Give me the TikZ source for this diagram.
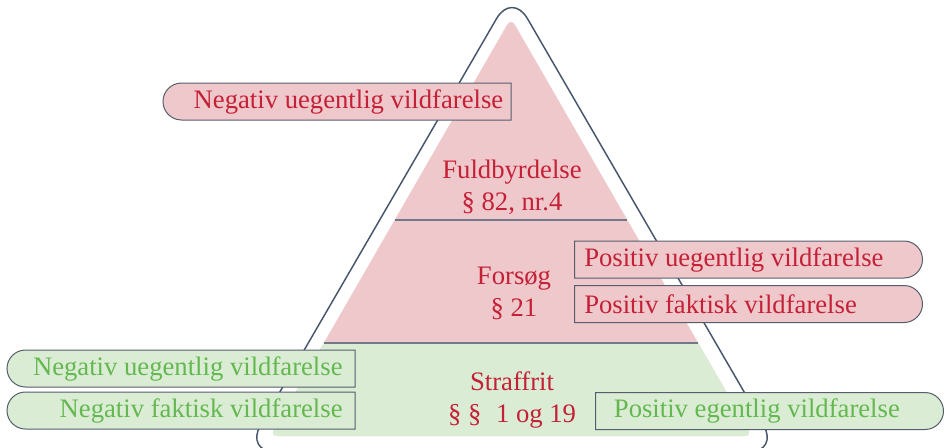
\documentclass[tikz,border=0pt]{standalone}
\usepackage{fontspec}
\setmainfont{Liberation Serif}
\usepackage{tikz}
\usetikzlibrary{shapes.misc}

\definecolor{pyrpink}{RGB}{239,200,204}
\definecolor{pyrgreen}{RGB}{218,236,212}
\definecolor{txtred}{RGB}{196,32,54}
\definecolor{txtgreen}{RGB}{100,184,80}
\definecolor{pyrline}{RGB}{70,86,108}
\definecolor{boxline}{RGB}{84,94,108}
\definecolor{divline}{RGB}{110,122,138}

\begin{document}
\begin{tikzpicture}[x=0.75pt, y=-0.75pt,
    level/.style={align=center, text=txtred, inner sep=0pt, font=\fontsize{20}{24}\selectfont},
    pbox/.style={rounded rectangle, draw=boxline, line width=0.75pt, fill=pyrpink,
        minimum width=261pt, minimum height=27.75pt, inner sep=0pt},
    gbox/.style={pbox, fill=pyrgreen},
    boxtxt/.style={inner sep=0pt, font=\fontsize{20}{24}\selectfont}]
        \useasboundingbox (0,0) rectangle (949,447); %
        \clip (0,0) rectangle (949,447); %
        \draw[pyrline, line width=1.1pt, rounded corners=23pt]
            (378.5,222) -- (512,-8) -- (779,452) -- (245,452) -- cycle; %
        \fill[pyrpink, rounded corners=6pt] (511,436) -- (270.2,436) -- (511,18) -- (751.8,436) -- cycle; %
        \fill[pyrgreen] (511,343) -- (698.2,343) [rounded corners=5pt] -- (751.8,436) -- (270.2,436)
            [sharp corners] -- (323.8,343) -- cycle; %
        \draw[divline, line width=1pt] (394.6,220) -- (627.4,220); %
        \draw[divline, line width=1pt] (323.8,343) -- (698.2,343); %
        \node[level](full) at (512,187){Fuldbyrdelse\\§ 82, nr.4}; %
        \node[level](fors) at (514,293){Forsøg\\§ 21}; %
        \node[level](fri) at (512,399.5){Straffrit\\§ §\hspace{0.55em}1 og 19}; %
        \node[pbox, rounded rectangle right arc=none](negU) at (337,101.5){}; %
        \node[pbox, rounded rectangle left arc=none](posU) at (748.5,259.5){}; %
        \node[pbox, rounded rectangle left arc=none](posF) at (748.5,304){}; %
        \node[gbox, rounded rectangle right arc=none](negUg) at (181,368.5){}; %
        \node[gbox, rounded rectangle right arc=none](negFg) at (181,410.5){}; %
        \node[gbox, rounded rectangle left arc=none](posE) at (769.5,411){}; %
        \node[boxtxt, text=txtred, anchor=east](negUtxt) at ([xshift=-6pt]negU.east){Negativ uegentlig vildfarelse}; %
        \node[boxtxt, text=txtred, anchor=west](posUtxt) at ([xshift=7.5pt]posU.west){Positiv uegentlig vildfarelse}; %
        \node[boxtxt, text=txtred, anchor=west](posFtxt) at ([xshift=7.5pt]posF.west){Positiv faktisk vildfarelse}; %
        \node[boxtxt, text=txtgreen, anchor=east](negUgtxt) at ([xshift=-9.5pt]negUg.east){Negativ uegentlig vildfarelse}; %
        \node[boxtxt, text=txtgreen, anchor=east](negFgtxt) at ([xshift=-9.5pt]negFg.east){Negativ faktisk vildfarelse}; %
        \node[boxtxt, text=txtgreen, anchor=west](posEtxt) at ([xshift=14pt]posE.west){Positiv egentlig vildfarelse}; %
    \end{tikzpicture}
\end{document}
